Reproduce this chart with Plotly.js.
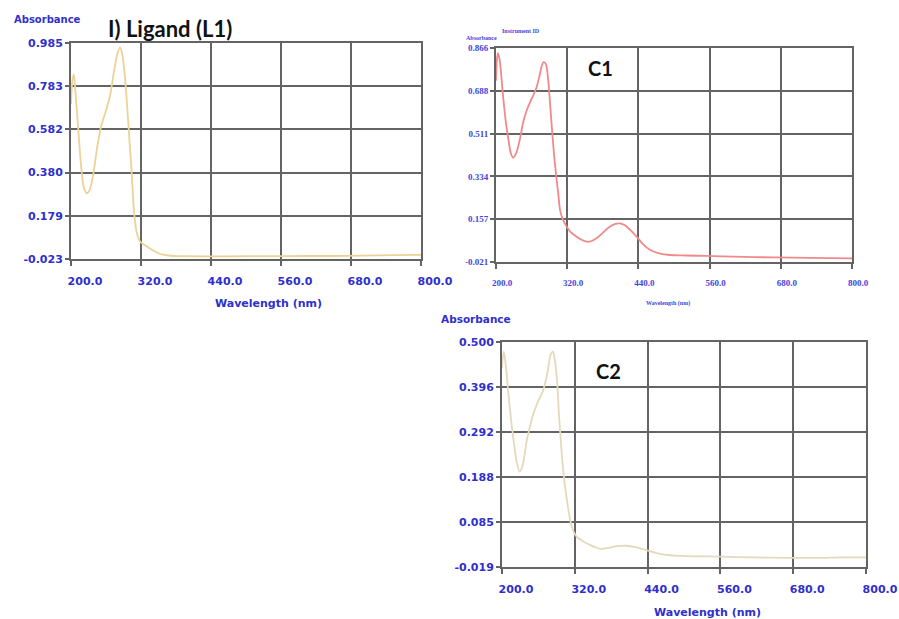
<!DOCTYPE html>
<html>
<head>
<meta charset="utf-8">
<script src="https://cdn.plot.ly/plotly-3.0.1.min.js"></script>
<style>
  html, body { margin: 0; padding: 0; background: #ffffff; }
  #chart { width: 899px; height: 619px; }
</style>
</head>
<body>
<div id="chart"></div>
<script>
// Wavelength grid ticks shared by all three spectra (nm)
const xTicks = [200, 320, 440, 560, 680, 800];
const xTickLabels = ["200.0", "320.0", "440.0", "560.0", "680.0", "800.0"];

// Absorbance ticks for each panel
const l1Ticks = [-0.023, 0.179, 0.380, 0.582, 0.783, 0.985];
const l1TickLabels = ["-0.023", "0.179", "0.380", "0.582", "0.783", "0.985"];
const c1Ticks = [-0.021, 0.157, 0.334, 0.511, 0.688, 0.866];
const c1TickLabels = ["-0.021", "0.157", "0.334", "0.511", "0.688", "0.866"];
const c2Ticks = [-0.019, 0.085, 0.188, 0.292, 0.396, 0.500];
const c2TickLabels = ["-0.019", "0.085", "0.188", "0.292", "0.396", "0.500"];

// Ligand (L1) spectrum
const l1Wavelength = [200, 202, 205, 208, 212, 217, 222, 227, 232, 238, 245, 252, 260, 267, 273, 279, 284, 288, 292, 296, 300, 304, 308, 312, 318, 325, 332, 340, 350, 360, 375, 400, 450, 500, 550, 600, 650, 700, 750, 800];
const l1Absorbance = [0.70, 0.80, 0.84, 0.74, 0.60, 0.42, 0.31, 0.284, 0.30, 0.37, 0.50, 0.60, 0.67, 0.74, 0.84, 0.93, 0.965, 0.93, 0.84, 0.70, 0.54, 0.38, 0.20, 0.11, 0.06, 0.045, 0.032, 0.018, 0.004, -0.004, -0.009, -0.010, -0.011, -0.010, -0.010, -0.009, -0.009, -0.007, -0.005, -0.004];

// Complex C1 spectrum
const c1Wavelength = [200, 201, 203, 206, 212, 217, 221, 225, 229, 234, 240, 246, 252, 258, 263, 268, 273, 277, 280, 284, 288, 291, 294, 298, 301, 305, 308, 312, 316, 325, 336, 345, 353, 360, 370, 380, 390, 400, 409, 418, 427, 437, 448, 460, 475, 493, 520, 555, 600, 667, 730, 800];
const c1Absorbance = [0.73, 0.80, 0.845, 0.82, 0.664, 0.55, 0.485, 0.43, 0.411, 0.43, 0.485, 0.56, 0.609, 0.645, 0.671, 0.70, 0.747, 0.79, 0.807, 0.80, 0.733, 0.64, 0.54, 0.42, 0.347, 0.26, 0.194, 0.16, 0.139, 0.105, 0.084, 0.07, 0.063, 0.065, 0.078, 0.10, 0.122, 0.136, 0.139, 0.13, 0.11, 0.084, 0.052, 0.029, 0.015, 0.008, 0.006, 0.004, 0.001, -0.002, -0.004, -0.006];

// Complex C2 spectrum
const c2Wavelength = [200, 201, 203, 206, 210, 215, 219, 224, 229, 234, 241, 247, 252, 260, 268, 275, 280, 284, 287, 291, 294, 298, 302, 307, 311, 315, 323, 334, 345, 355, 364, 375, 390, 405, 420, 438, 455, 471, 504, 559, 614, 670, 724, 760, 796, 800];
const c2Absorbance = [0.44, 0.46, 0.478, 0.45, 0.389, 0.32, 0.274, 0.225, 0.201, 0.215, 0.274, 0.31, 0.336, 0.365, 0.389, 0.43, 0.47, 0.478, 0.46, 0.405, 0.33, 0.251, 0.19, 0.136, 0.10, 0.074, 0.051, 0.04, 0.032, 0.026, 0.023, 0.025, 0.029, 0.030, 0.027, 0.020, 0.013, 0.009, 0.006, 0.005, 0.003, 0.002, 0.002, 0.003, 0.003, 0.003];

const W = 899, H = 619;
const px = v => v / W;
const py = v => 1 - v / H;

const gridColor = "#646464";
const blue = "#2f2fcc";
const sansBold = { family: "DejaVu Sans", size: 11, color: blue, weight: "bold" };
const serifBold = { family: "Liberation Serif", size: 9, color: "#4444dd", weight: "bold" };

function xAxis(domain, anchor, font, shift, standoff) {
  return {
    domain: domain, anchor: anchor, range: [200, 800],
    tickmode: "array", tickvals: xTicks, ticktext: xTickLabels,
    showgrid: true, gridcolor: gridColor, gridwidth: 2,
    showline: true, linecolor: gridColor, linewidth: 2, mirror: true,
    ticks: "outside", ticklen: 5, tickcolor: gridColor, tickwidth: 2,
    tickfont: font, ticklabelshift: shift, ticklabelstandoff: standoff,
    zeroline: false, fixedrange: true
  };
}
function yAxis(domain, anchor, range, vals, labels, font) {
  return {
    domain: domain, anchor: anchor, range: range,
    tickmode: "array", tickvals: vals, ticktext: labels,
    showgrid: true, gridcolor: gridColor, gridwidth: 2,
    showline: true, linecolor: gridColor, linewidth: 2, mirror: true,
    ticks: "outside", ticklen: 4, tickcolor: gridColor, tickwidth: 2,
    tickfont: font, zeroline: false, fixedrange: true
  };
}

const traces = [
  { x: l1Wavelength, y: l1Absorbance, xaxis: "x", yaxis: "y", mode: "lines",
    line: { color: "#ecd296", width: 1.8, shape: "spline", smoothing: 0.8 }, hoverinfo: "skip" },
  { x: c1Wavelength, y: c1Absorbance, xaxis: "x2", yaxis: "y2", mode: "lines",
    line: { color: "#f08a8a", width: 1.8, shape: "spline", smoothing: 0.8 }, hoverinfo: "skip" },
  { x: c2Wavelength, y: c2Absorbance, xaxis: "x3", yaxis: "y3", mode: "lines",
    line: { color: "#e6d8ba", width: 1.8, shape: "spline", smoothing: 0.8 }, hoverinfo: "skip" }
];

function note(text, x, y, font, xanchor) {
  return { text: text, x: px(x), y: py(y), xref: "paper", yref: "paper",
           showarrow: false, font: font, xanchor: xanchor || "center", yanchor: "middle" };
}

const layout = {
  width: W, height: H,
  margin: { l: 0, r: 0, t: 0, b: 0 },
  paper_bgcolor: "#ffffff", plot_bgcolor: "#ffffff",
  showlegend: false,
  xaxis: xAxis([px(71), px(421)], "y", sansBold, 14, 6),
  yaxis: yAxis([py(259), py(43)], "x", [-0.023, 0.985], l1Ticks, l1TickLabels, sansBold),
  xaxis2: xAxis([px(496), px(852)], "y2", serifBold, 6, 6),
  yaxis2: yAxis([py(262), py(48)], "x2", [-0.021, 0.866], c1Ticks, c1TickLabels, serifBold),
  xaxis3: xAxis([px(502), px(866)], "y3", sansBold, 14, 6),
  yaxis3: yAxis([py(567), py(342)], "x3", [-0.019, 0.500], c2Ticks, c2TickLabels, sansBold),
  annotations: [
    note("I) Ligand (L1)", 170, 28, { family: "Lato", size: 22, color: "#111111", weight: "bold" }),
    note("Absorbance", 47, 20, { family: "DejaVu Sans", size: 10, color: blue, weight: "bold" }),
    note("Wavelength (nm)", 268, 303, { family: "DejaVu Sans", size: 11, color: blue, weight: "bold" }),
    note("C1", 600, 68, { family: "Lato", size: 20, color: "#111111", weight: "bold" }),
    note("Instrument ID", 521, 31, { family: "Liberation Serif", size: 6, color: "#4444dd", weight: "bold" }),
    note("Absorbance", 481, 38, { family: "Liberation Serif", size: 6, color: "#4444dd", weight: "bold" }),
    note("Wavelength (nm)", 668, 303, { family: "Liberation Serif", size: 6, color: "#4444dd", weight: "bold" }),
    note("C2", 608, 371, { family: "Lato", size: 20, color: "#111111", weight: "bold" }),
    note("Absorbance", 476, 319, { family: "DejaVu Sans", size: 10.5, color: blue, weight: "bold" }),
    note("Wavelength (nm)", 707, 612, { family: "DejaVu Sans", size: 11, color: blue, weight: "bold" })
  ]
};

Plotly.newPlot("chart", traces, layout, { staticPlot: true, displayModeBar: false });
</script>
</body>
</html>
